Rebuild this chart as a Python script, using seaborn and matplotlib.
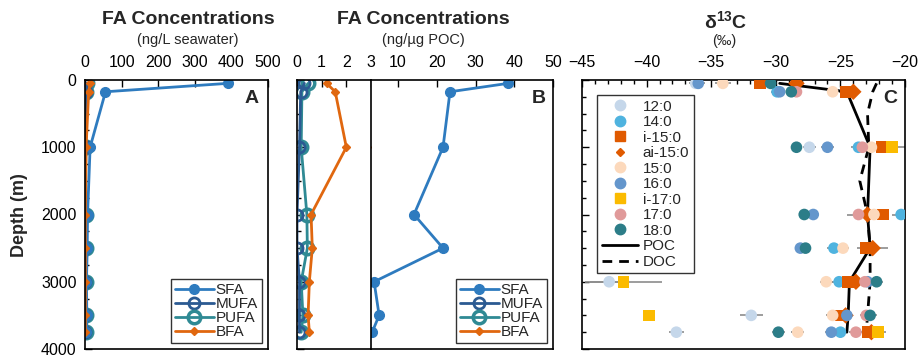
import numpy as np
import pandas as pd
import matplotlib
matplotlib.use("Agg")
import matplotlib.pyplot as plt
import seaborn as sns
from matplotlib.lines import Line2D
from matplotlib.ticker import MultipleLocator

# ---- data ----
depth = [50, 175, 1000, 2000, 2500, 3000, 3500, 3750]

# A: FA concentrations (ng/L seawater)
sfa_a = [390, 56, 14, 7, 6, 4, 5, 4]
mufa_a = [4, 3, 2, 1, 1, 1, 1, 1]
pufa_a = [5, 4, 2, 2, 2, 2, 2, 2]
bfa_a = [14, 10, 3, 1, 1, 1, 1, 1]

# B: FA concentrations (ng/ug POC)
sfa_b = [38.4, 23.4, 21.6, 14.1, 21.6, 3.8, 5.1, 3.3]
mufa_b = [0.3, 0.15, 0.1, 0.0, 0.0, 0.1, 0.1, 0.1]
pufa_b = [0.45, 0.2, 0.17, 0.4, 0.42, 0.17, 0.24, 0.17]
bfa_b = [1.2, 1.55, 2.0, 0.57, 0.62, 0.5, 0.45, 0.5]

# C: d13C of individual fatty acids (permil), nan = not shown
nan = np.nan
c12_0 = [-36.2, nan, -27.4, nan, nan, -42.9, -31.9, -37.7]
c14_0 = [nan, -29.9, -23.6, -20.3, -25.5, -25.1, nan, -25.0]
ci15_0 = [-31.2, -24.6, -21.8, -21.7, -23.0, -24.4, -25.0, -22.9]
cai15_0 = [-28.4, -24.0, nan, -22.9, -22.5, -23.8, -24.6, -22.6]
c15_0 = [-34.1, -25.6, -22.6, -22.4, -24.8, -26.1, -25.6, -28.3]
c16_0 = [-36.0, -29.7, -26.0, -27.1, -28.1, -22.9, -24.5, -25.7]
ci17_0 = [nan, nan, -21.0, nan, nan, -41.8, -39.8, -22.1]
c17_0 = [nan, -28.4, -23.3, -23.6, nan, -23.1, -23.0, -23.8]
c18_0 = [-30.4, -28.8, -28.4, -27.8, -27.7, -22.2, -22.7, -29.8]

# error bars (permil)
e12_0 = [0.5, 0, 0.5, 0, 0, 1.5, 0.9, 0.6]
e14_0 = [0, 0.5, 0.6, 0.7, 0.5, 0.6, 0, 0.5]
ei15_0 = [0.5, 0.5, 0.5, 0.5, 0.5, 0.5, 0.5, 0.5]
eai15_0 = [0.4, 0.4, 0, 0.6, 1.2, 0.5, 0.5, 0.5]
e15_0 = [0.6, 0.4, 0.5, 0.5, 0.5, 0.5, 0.5, 0.5]
e16_0 = [0.5, 0.4, 0.5, 0.4, 0.4, 0.5, 0.4, 0.5]
ei17_0 = [0, 0, 1.0, 0, 0, 3.0, 0.3, 0.6]
e17_0 = [0, 0.4, 0.5, 0.9, 0, 0.5, 0.5, 0.5]
e18_0 = [0.4, 0.4, 0.4, 0.4, 0.4, 0.5, 0.5, 0.5]

poc = [-29.7, -24.5, -22.7, -22.9, -22.7, -24.3, -24.4, -24.5]
doc_depth = [50, 175, 500, 1000, 1500, 2000, 2500, 3000, 3500, 3750]
doc = [-22.2, -22.5, -22.9, -22.8, -23.5, -22.9, -22.7, -22.7, -22.9, -23.0]

compounds = ["12:0", "14:0", "i-15:0", "ai-15:0", "15:0", "16:0", "i-17:0", "17:0", "18:0"]
c_vals = [c12_0, c14_0, ci15_0, cai15_0, c15_0, c16_0, ci17_0, c17_0, c18_0]
c_errs = [e12_0, e14_0, ei15_0, eai15_0, e15_0, e16_0, ei17_0, e17_0, e18_0]
c_colors = ["#c5d7ea", "#4fb3df", "#e05a00", "#e05a00", "#fcd9bc",
            "#6496cc", "#fbbb00", "#e09a9a", "#2c7d88"]
c_markers = ["o", "o", "s", "D", "o", "o", "s", "o", "o"]

# ---- figure ----
sns.set_style("ticks")
plt.rcParams["font.family"] = ["Liberation Sans", "DejaVu Sans"]
plt.rcParams["mathtext.fontset"] = "custom"
plt.rcParams["mathtext.rm"] = "Liberation Sans"
plt.rcParams["mathtext.bf"] = "Liberation Sans:bold"

W, H = 918, 358
fig = plt.figure(figsize=(W / 100, H / 100), dpi=100)


def px_axes(x0, x1, y0, y1):
    return fig.add_axes([x0 / W, 1 - y1 / H, (x1 - x0) / W, (y1 - y0) / H])


TOP, BOT = 80, 349
axA = px_axes(85, 268, TOP, BOT)
axB1 = px_axes(297, 371, TOP, BOT)
axB2 = px_axes(371, 553, TOP, BOT)
axC = px_axes(582, 905, TOP, BOT)

fa_styles = {
    "SFA": dict(color="#2e7bbf", marker="o", markersize=7, markerfacecolor="#2e7bbf",
                markeredgecolor="#2e7bbf", markeredgewidth=1),
    "MUFA": dict(color="#2b5a92", marker="o", markersize=8, markerfacecolor="none",
                 markeredgecolor="#2b5a92", markeredgewidth=2),
    "PUFA": dict(color="#2f8a94", marker="o", markersize=9, markerfacecolor="none",
                 markeredgecolor="#2f8a94", markeredgewidth=2.5),
    "BFA": dict(color="#e0670f", marker="D", markersize=4, markerfacecolor="#e0670f",
                markeredgecolor="#e0670f", markeredgewidth=1),
}

series_a = {"SFA": sfa_a, "MUFA": mufa_a, "PUFA": pufa_a, "BFA": bfa_a}
series_b = {"SFA": sfa_b, "MUFA": mufa_b, "PUFA": pufa_b, "BFA": bfa_b}

for name in ["PUFA", "MUFA", "SFA", "BFA"]:
    sns.lineplot(x=series_a[name], y=depth, sort=False, estimator=None, lw=2,
                 ax=axA, label=name, **fa_styles[name])
    for ax in (axB1, axB2):
        sns.lineplot(x=series_b[name], y=depth, sort=False, estimator=None, lw=2,
                     ax=ax, label=name, **fa_styles[name])

leg_order = ["SFA", "MUFA", "PUFA", "BFA"]


def fa_legend(ax):
    handles = [Line2D([], [], lw=2, **fa_styles[n]) for n in leg_order]
    leg = ax.legend(handles, leg_order, loc="lower right", fontsize=11,
                    frameon=True, fancybox=False, edgecolor="black",
                    labelspacing=0.0, handlelength=2.6, handletextpad=0.1,
                    borderpad=0.25, borderaxespad=0.4)
    leg.get_frame().set_linewidth(1)


fa_legend(axA)
axB1.get_legend().remove()
fa_legend(axB2)

# C panel
rows = []
for cmp, vals, errs in zip(compounds, c_vals, c_errs):
    for d, v, e in zip(depth, vals, errs):
        if not np.isnan(v):
            rows.append({"compound": cmp, "depth": d, "d13C": v, "err": e})
df = pd.DataFrame(rows)

axC.errorbar(df["d13C"], df["depth"], xerr=df["err"], fmt="none",
             ecolor="#8c8c8c", elinewidth=1.2, zorder=1)
sns.lineplot(x=poc, y=depth, sort=False, estimator=None, color="black", lw=2,
             ax=axC, zorder=2)
sns.lineplot(x=doc, y=doc_depth, sort=False, estimator=None, color="black", lw=2,
             ax=axC, zorder=2)
axC.lines[-1].set_linestyle((0, (3.5, 2.5)))
sns.scatterplot(data=df, x="d13C", y="depth", hue="compound", style="compound",
                palette=dict(zip(compounds, c_colors)),
                markers=dict(zip(compounds, c_markers)),
                s=70, edgecolor="none", legend=False, ax=axC, zorder=3)

c_handles = [Line2D([], [], ls="none", marker=m, color=c, markersize=7.5 if m != "D" else 4.5)
             for m, c in zip(c_markers, c_colors)]
c_handles += [Line2D([], [], color="black", lw=2),
              Line2D([], [], color="black", lw=2, ls=(0, (3.5, 2.5)))]
legC = axC.legend(c_handles, compounds + ["POC", "DOC"], loc="upper left",
                  bbox_to_anchor=(15 / 323, 1 - 15 / 269), fontsize=11,
                  frameon=True, fancybox=False, edgecolor="black",
                  labelspacing=0.1, handlelength=2.4, handletextpad=0.3,
                  borderpad=0.3, borderaxespad=0)
legC.get_frame().set_linewidth(1)

# ---- axes styling ----
for ax in (axA, axB1, axB2, axC):
    ax.set_ylim(4000, 0)
    ax.xaxis.tick_top()
    ax.set_xlabel("")
    ax.set_ylabel("")
    ax.tick_params(axis="both", which="both", direction="in", labelsize=11.5,
                   colors="black", width=1)
    ax.tick_params(axis="x", which="major", length=5, pad=7)
    ax.tick_params(axis="x", which="minor", length=3)
    ax.tick_params(axis="y", which="major", length=5, pad=6)
    ax.tick_params(axis="y", which="minor", length=3)
    for sp in ax.spines.values():
        sp.set_color("black")
        sp.set_linewidth(1.2)
    ax.set_facecolor("white")

for ax in (axA, axB1, axC):
    ax.yaxis.set_major_locator(MultipleLocator(1000))
    ax.yaxis.set_minor_locator(MultipleLocator(250))
    ax.tick_params(axis="y", which="both", left=True, right=False)
axA.tick_params(axis="y", labelleft=True)
axB1.tick_params(axis="y", labelleft=False)
axC.tick_params(axis="y", labelleft=False)
axB2.tick_params(axis="y", which="both", left=False, right=False, labelleft=False)

axA.set_xlim(0, 500)
axA.set_xticks([0, 100, 200, 300, 400, 500])
axA.set_yticks([0, 1000, 2000, 3000, 4000])

axB1.set_xlim(0, 3)
axB1.set_xticks([0, 1, 2, 3])
axB1.spines["right"].set_visible(False)
axB2.set_xlim(3, 50)
axB2.set_xticks([10, 20, 30, 40, 50])

axC.set_xlim(-45, -20)
axC.set_xticks([-45, -40, -35, -30, -25, -20])
axC.xaxis.set_minor_locator(MultipleLocator(1))

# panel letters
axA.text(0.95, 0.93, "A", transform=axA.transAxes, ha="right", va="center",
         fontsize=14, fontweight="bold")
axB2.text(0.96, 0.93, "B", transform=axB2.transAxes, ha="right", va="center",
          fontsize=14, fontweight="bold")
axC.text(0.975, 0.93, "C", transform=axC.transAxes, ha="right", va="center",
         fontsize=14, fontweight="bold")

# titles
fig.text(188 / W, 1 - 20 / H, "FA Concentrations", ha="center", va="center",
         fontsize=14, fontweight="bold")
fig.text(188 / W, 1 - 40 / H, "(ng/L seawater)", ha="center", va="center", fontsize=10.5)
fig.text(423 / W, 1 - 20 / H, "FA Concentrations", ha="center", va="center",
         fontsize=14, fontweight="bold")
fig.text(423 / W, 1 - 40 / H, "(ng/µg POC)", ha="center", va="center", fontsize=10.5)
fig.text(726 / W, 1 - 22 / H, r"δ$^{\mathbf{13}}$C", ha="center", va="center",
         fontsize=14, fontweight="bold")
fig.text(724 / W, 1 - 41 / H, "(‰)", ha="center", va="center", fontsize=10.5)
fig.text(20 / W, 1 - 215 / H, "Depth (m)", ha="center", va="center",
         rotation=90, fontsize=13, fontweight="bold")

fig.savefig("out.png", dpi=100)
